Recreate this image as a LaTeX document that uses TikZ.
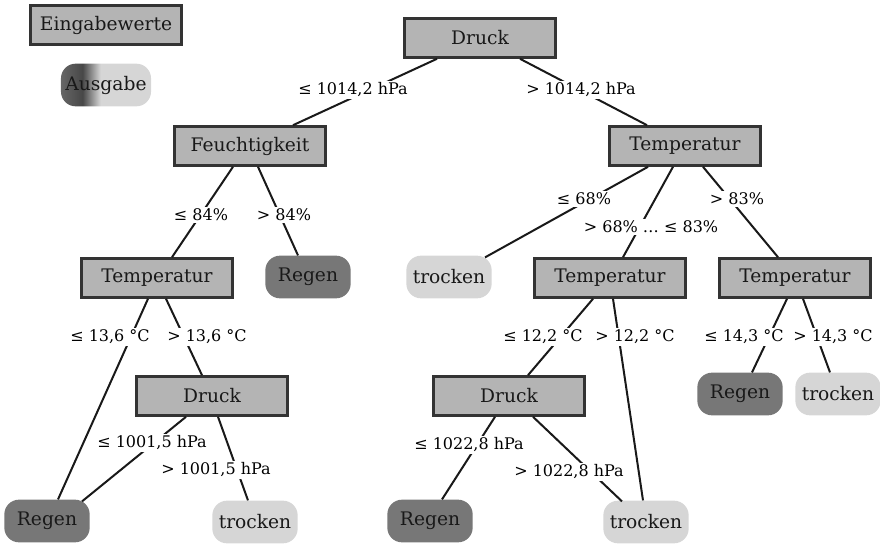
\documentclass[tikz,border=0pt]{standalone}
\usepackage{fontspec}
\setmainfont{DejaVu Serif}
\usepackage{xcolor}
\usepackage{tikz}
\usetikzlibrary{calc}
\definecolor{inputcolor}{HTML}{B4B4B4}
\definecolor{raincolor}{HTML}{777777}
\definecolor{drycolor}{HTML}{D6D6D6}
\definecolor{bordercolor}{HTML}{333333}
\pgfdeclarehorizontalshading{outshade}{100bp}{color(0bp)=(black!60); color(25bp)=(black!60);
  color(37bp)=(black!72); color(47bp)=(black!16); color(100bp)=(black!16)}

\begin{document}
\begin{tikzpicture}[
  x=0.75pt, y=-0.75pt,
  split/.style={draw=bordercolor, line width=2.2pt, fill=inputcolor,
                minimum width=113pt, minimum height=29pt,
                font=\fontsize{14}{16}\selectfont, text=black!90},
  leaf/.style={rounded corners=11pt, minimum width=64pt, minimum height=32pt,
               font=\fontsize{14}{16}\selectfont, text=black!90},
  rain/.style={leaf, fill=raincolor},
  dry/.style={leaf, fill=drycolor},
  cond/.style={fill=white, inner sep=1.5pt, font=\fontsize{12}{14}\selectfont},
  branch/.style={line width=1.5pt, color=black!90},
]
\useasboundingbox (0,0) rectangle (880,549);

%% Legend
\node[split] (eingabe) at (106,25) {Eingabewerte};
\node[leaf, shade, shading=outshade] (ausgabe) at (106,85) {Ausgabe};

%% Level 0 / 1
\node[split] (druck)  at (480,38)  {Druck};
\node[split] (feucht) at (250,146) {Feuchtigkeit};
\node[split] (tempR)  at (685,146) {Temperatur};

%% Level 2
\node[split] (tempL)  at (157,278) {Temperatur};
\node[rain]  (regenA) at (308,277) {Regen};
\node[dry]   (trockA) at (449,277) {trocken};
\node[split] (tempM)  at (610,278) {Temperatur};
\node[split] (tempRR) at (795,278) {Temperatur};

%% Level 3
\node[split] (druckL) at (212,396) {Druck};
\node[split] (druckM) at (509,396) {Druck};
\node[rain]  (regenB) at (740,394) {Regen};
\node[dry]   (trockB) at (838,394) {trocken};

%% Level 4
\node[rain] (regenC) at (47,521)  {Regen};
\node[dry]  (trockC) at (255,522) {trocken};
\node[rain] (regenD) at (430,521) {Regen};
\node[dry]  (trockD) at (646,522) {trocken};

%% Branches
\draw[branch] ($(druck.south)+(-43,0)$) -- ($(feucht.north)+(43,0)$);
\draw[branch] ($(druck.south)+(40,0)$)  -- ($(tempR.north)+(-38,0)$);
\draw[branch] ($(feucht.south)+(-17,0)$) -- ($(tempL.north)+(15,0)$);
\draw[branch] ($(feucht.south)+(8,0)$)   -- ($(regenA.north)+(-10,0)$);
\draw[branch] ($(tempR.south)+(-37,0)$) -- ($(trockA.north)+(36,2)$);
\draw[branch] ($(tempR.south)+(-12,0)$) -- ($(tempM.north)+(13,0)$);
\draw[branch] ($(tempR.south)+(18,0)$)  -- ($(tempRR.north)+(-17,0)$);
\draw[branch] ($(tempL.south)+(-9,0)$)  -- ($(regenC.north)+(11,0)$);
\draw[branch] ($(tempL.south)+(9,0)$)   -- ($(druckL.north)+(-10,0)$);
\draw[branch] ($(druckL.south)+(-26,0)$) -- ($(regenC.north)+(35,2)$);
\draw[branch] ($(druckL.south)+(6,0)$)   -- ($(trockC.north)+(-7,0)$);
\draw[branch] ($(tempM.south)+(-17,0)$) -- ($(druckM.north)+(19,0)$);
\draw[branch] ($(tempM.south)+(3,0)$)   -- ($(trockD.north)+(-3,0)$);
\draw[branch] ($(druckM.south)+(-14,0)$) -- ($(regenD.north)+(12,0)$);
\draw[branch] ($(druckM.south)+(24,0)$)  -- ($(trockD.north)+(-24,1)$);
\draw[branch] ($(tempRR.south)+(-8,0)$) -- ($(regenB.north)+(12,0)$);
\draw[branch] ($(tempRR.south)+(8,0)$)  -- ($(trockB.north)+(-8,0)$);

%% Conditions
\node[cond] (c1)  at (353,90)  {≤ 1014,2 hPa};
\node[cond] (c2)  at (581,90)  {> 1014,2 hPa};
\node[cond] (c3)  at (201,215) {≤ 84\%};
\node[cond] (c4)  at (284,215) {> 84\%};
\node[cond] (c5)  at (584,199) {≤ 68\%};
\node[cond] (c6)  at (651,227) {> 68\% … ≤ 83\%};
\node[cond] (c7)  at (737,199) {> 83\%};
\node[cond] (c8)  at (110,337) {≤ 13,6 °C};
\node[cond] (c9)  at (207,337) {> 13,6 °C};
\node[cond] (c10) at (152,443) {≤ 1001,5 hPa};
\node[cond] (c11) at (216,470) {> 1001,5 hPa};
\node[cond] (c12) at (543,337) {≤ 12,2 °C};
\node[cond] (c13) at (635,337) {> 12,2 °C};
\node[cond] (c14) at (469,445) {≤ 1022,8 hPa};
\node[cond] (c15) at (569,472) {> 1022,8 hPa};
\node[cond] (c16) at (744,337) {≤ 14,3 °C};
\node[cond] (c17) at (833,337) {> 14,3 °C};

\end{tikzpicture}
\end{document}
